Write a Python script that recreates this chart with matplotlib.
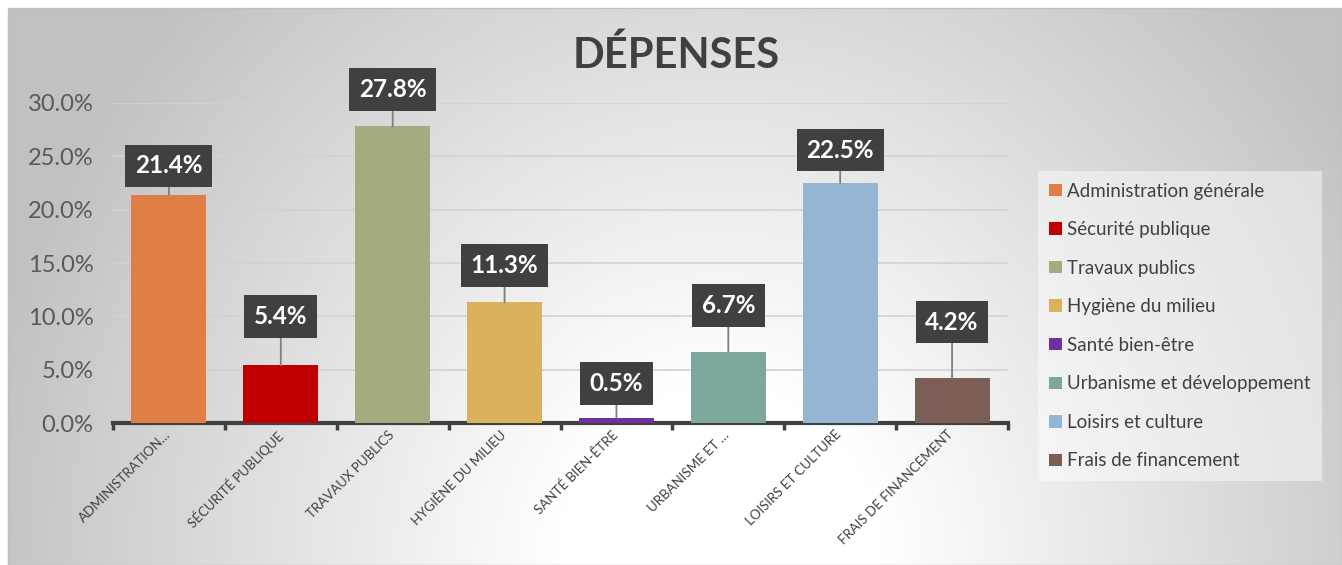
import numpy as np
import matplotlib.pyplot as plt
from matplotlib.patches import Patch
from matplotlib.ticker import PercentFormatter, FixedLocator
from matplotlib.transforms import ScaledTranslation


categories = ['Administration générale', 'Sécurité publique', 'Travaux publics',
              'Hygiène du milieu', 'Santé bien-être', 'Urbanisme et développement',
              'Loisirs et culture', 'Frais de financement']
tick_labels = ['ADMINISTRATION…', 'SÉCURITÉ PUBLIQUE', 'TRAVAUX PUBLICS',
               'HYGIÈNE DU MILIEU', 'SANTÉ BIEN-ÊTRE', 'URBANISME ET …',
               'LOISIRS ET CULTURE', 'FRAIS DE FINANCEMENT']
values = [0.214, 0.054, 0.278, 0.113, 0.005, 0.067, 0.225, 0.042]
colors = ['#E07F45', '#C00000', '#A5AB7F', '#D9B25B', '#7030A0', '#7BA79D',
          '#94B6D2', '#7B5E55']

# décalage vertical des étiquettes (pixels au-dessus de la barre)
label_offsets = [29, 49, 37, 37, 34, 46, 33, 56]

W, H = 1342, 565
plt.rcParams['font.family'] = ['Lato', 'DejaVu Sans']

fig = plt.figure(figsize=(W / 100, H / 100), dpi=100)

# fond en dégradé radial (blanc en bas au centre, gris vers les bords)
bg = fig.add_axes([8 / W, 0, 1 - 8 / W, 1 - 8 / H], zorder=-5)
yy, xx = np.mgrid[8:H, 8:W]
r = np.sqrt(((xx - 720) / 650.) ** 2 + ((yy - 560) / 700.) ** 2)
shade = 1 - 0.24 * np.clip((r - 0.25) / 0.9, 0, 1)
img = np.dstack([shade, shade, shade])
bg.imshow(img, aspect='auto', extent=[0, 1, 0, 1], origin='upper')
bg.set_axis_off()
fig.patches.append(plt.Rectangle((8 / W, 0), 1 - 8 / W, 1 - 8 / H, transform=fig.transFigure,
                                 fill=False, ec='#c0c0c0', lw=1, zorder=10))

ax = fig.add_axes([113 / W, (H - 423) / H, 895 / W, 320 / H])
ax.patch.set_alpha(0)

x = np.arange(len(values))
ax.bar(x, values, width=0.67, color=colors, zorder=3)
ax.set_xlim(-0.5, len(values) - 0.5)
ax.set_ylim(0, 0.30)
ax.set_yticks(np.arange(0, 0.301, 0.05))
ax.yaxis.set_major_formatter(PercentFormatter(1.0, decimals=1))
ax.grid(axis='y', color='#d2d2d2', lw=1.2, zorder=0)

for s in ['top', 'right', 'left']:
    ax.spines[s].set_visible(False)
ax.spines['bottom'].set_color('#404040')
ax.spines['bottom'].set_linewidth(3)

ax.tick_params(axis='y', length=0, labelsize=17, labelcolor='#595959', pad=14)
ax.set_xticks(x)
ax.set_xticklabels(tick_labels, rotation=45, ha='right', rotation_mode='anchor',
                   fontsize=9.5, color='#404040')
ax.tick_params(axis='x', which='major', length=0, pad=4)
ax.xaxis.set_minor_locator(FixedLocator(np.arange(-0.5, len(values), 1.0)))
ax.tick_params(axis='x', which='minor', length=5, width=2.5, color='#404040')
shift = ScaledTranslation(-5 / 100, 0, fig.dpi_scale_trans)
for lab in ax.get_xticklabels():
    lab.set_transform(lab.get_transform() + shift)

for xi, v, off in zip(x, values, label_offsets):
    ax.annotate(f'{v * 100:.1f}%', xy=(xi, v), xytext=(0, off * 0.72),
                textcoords='offset points', ha='center', va='center',
                fontsize=17.5, fontweight='bold', color='white', zorder=6,
                bbox=dict(boxstyle='square,pad=0.4', fc='#404040', ec='none'),
                arrowprops=dict(arrowstyle='-', color='#7f7f7f', lw=1.3,
                                shrinkA=0, shrinkB=0),
                annotation_clip=False)

fig.text(676 / W, 1 - 55 / H, 'DÉPENSES', ha='center', va='center',
         fontsize=30, fontweight='bold', color='#404040')

handles = [Patch(fc=c, ec='none') for c in colors]
leg = fig.legend(handles, categories, loc='center',
                 bbox_to_anchor=(1180 / W, 1 - 326 / H), fontsize=13.5,
                 labelcolor='#404040', frameon=True, fancybox=False,
                 handlelength=0.65, handleheight=0.65, handletextpad=0.3,
                 labelspacing=1.15, borderpad=0.6, borderaxespad=0)
leg.get_frame().set_facecolor('white')
leg.get_frame().set_edgecolor('none')
leg.get_frame().set_alpha(0.45)

fig.savefig('out.png', dpi=100)
